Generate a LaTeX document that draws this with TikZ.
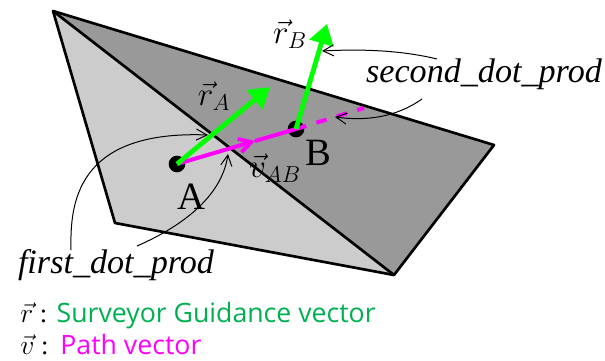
\documentclass[tikz,border=0pt]{standalone}
\usepackage{amsmath,amssymb}
\usepackage{xcolor}
\usepackage{fontspec}
\setmainfont{Liberation Serif}
\newfontfamily\legendfont{Open Sans}
\usetikzlibrary{arrows.meta, positioning}
\definecolor{guidegreen}{RGB}{0,176,80}
\definecolor{pathpink}{RGB}{255,0,255}

\begin{document}
\begin{tikzpicture}[
    x=0.75pt, y=-0.75pt,
    face/.style={draw=black, line width=2pt, line join=round},
    dot/.style={circle, fill=black, inner sep=0pt, minimum size=12.5pt},
    guide/.style={-{Triangle[length=15pt, width=18pt]}, draw={rgb,255:red,0;green,255;blue,0}, line width=3.6pt},
    pathvec/.style={draw=pathpink, line width=3pt},
    callout/.style={-{Straight Barb[length=8pt, width=16pt, angle'=55]}, line width=0.75pt},
    ptname/.style={font=\fontsize{29}{29}\selectfont, inner sep=0pt},
    vlabel/.style={font=\fontsize{27}{27}\selectfont, inner sep=0pt},
    dotprod/.style={font=\fontsize{25.6}{26}\selectfont\itshape, inner sep=0pt},
    legendline/.style={font=\fontsize{20}{20}\selectfont, inner sep=0pt, anchor=base west}
]
\useasboundingbox (0,0) rectangle (605,360);

% Corners of the two faces
\coordinate (top) at (53,11);
\coordinate (left) at (115,223);
\coordinate (bottom) at (394,275);
\coordinate (right) at (494,145);

\fill[gray!40!white] (top) -- (left) -- (bottom) -- cycle;
\fill[gray!80!white] (top) -- (right) -- (bottom) -- cycle;
\draw[face] (top) -- (left) -- (bottom) -- (right) -- cycle;
\draw[face] (top) -- (bottom);

% Points on the path
\node[dot] at (177,164) (ptA) {};
\node[dot] at (296,129) (ptB) {};
\coordinate (tipA) at (270,87);
\coordinate (tipB) at (327,24);
\coordinate (pathmid) at (255,141);
\coordinate (pathend) at (364,108);

% Path vector
\draw[pathvec, -{Straight Barb[length=9pt, width=20pt, angle'=60]}] (ptA.center) -- (pathmid);
\draw[pathvec] (pathmid) -- (ptB.center);
\draw[pathvec, dashed, dash pattern=on 8pt off 8pt] (ptB.center) -- (pathend);

% Guidance vectors
\draw[guide] (ptA.center) -- (tipA);
\draw[guide] (ptB.center) -- (tipB);

% Labels
\node[ptname] at (191,197) (nameA) {A};
\node[ptname] at (318,153) (nameB) {B};
\node[vlabel] at (214,96) (labelrA) {$\vec{r}_{A}$};
\node[vlabel] at (290,34) (labelrB) {$\vec{r}_{B}$};
\node[vlabel] at (275,168) (labelv) {$\vec{v}_{AB}$};
\node[dotprod] at (484,74) (second) {second\_dot\_prod};
\node[dotprod] at (116,265) (first) {first\_dot\_prod};

% Callouts
\coordinate (secondup) at (437,59);
\coordinate (seconddown) at (422,99);
\coordinate (firstleft) at (71,250);
\coordinate (firstright) at (137,246);
\coordinate (hitrB) at (322,51);
\coordinate (hitdash) at (335,117);
\coordinate (hitfirst) at (208,135);
\coordinate (hitsecond) at (228,154);
\draw[callout] (secondup) .. controls (400,50) and (360,49) .. (hitrB);
\draw[callout] (seconddown) .. controls (395,118) and (365,121) .. (hitdash);
\draw[callout] (firstleft) .. controls (70,205) and (75,130) .. (hitfirst);
\draw[callout] (firstright) .. controls (185,225) and (222,195) .. (hitsecond);

% Legend
\node[legendline] at (20,322) (legendr) {$\vec{r}$ :\hspace{7pt}\legendfont\textcolor{guidegreen}{Surveyor Guidance vector}};
\node[legendline] at (20,354) (legendv) {$\vec{v}$ :\hspace{9pt}\legendfont\textcolor{pathpink}{Path vector}};

\end{tikzpicture}
\end{document}
